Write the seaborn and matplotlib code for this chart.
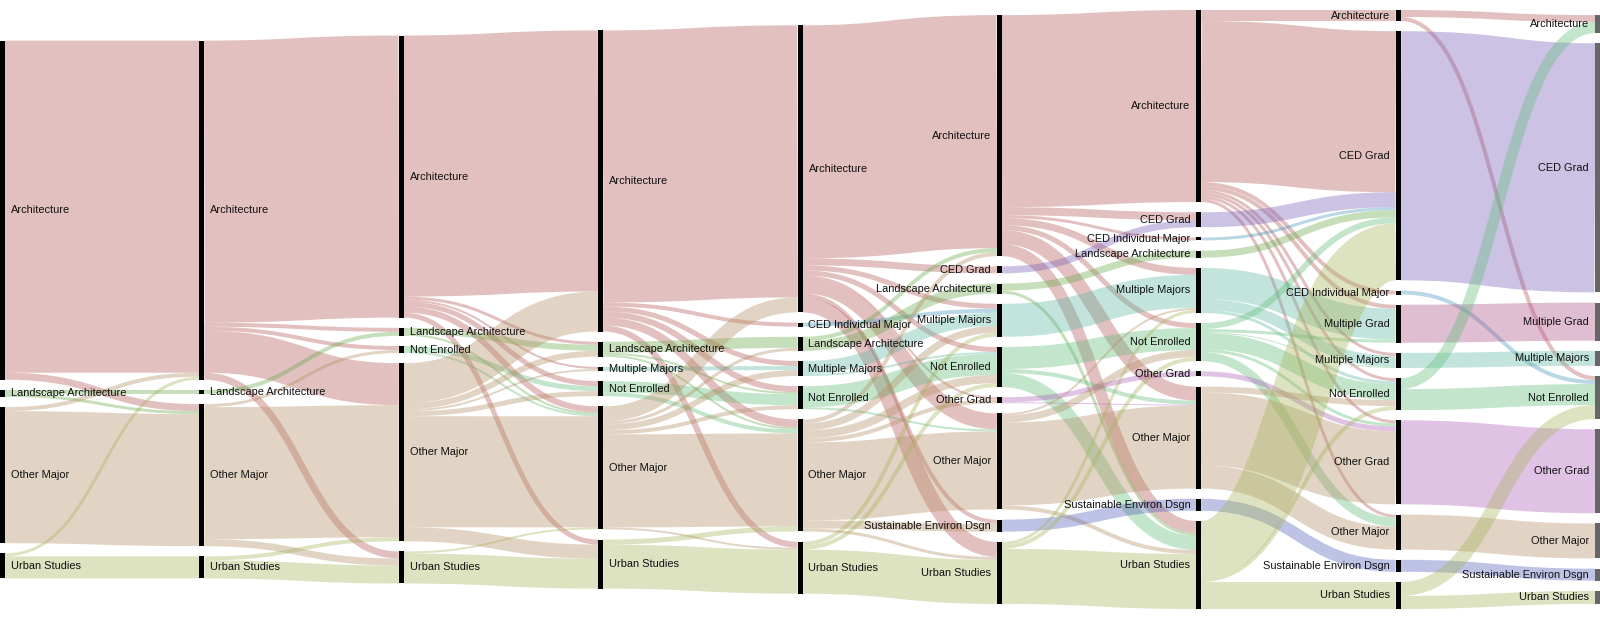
import matplotlib
matplotlib.use("Agg")
import matplotlib.pyplot as plt
from matplotlib.path import Path
from matplotlib.patches import PathPatch
import seaborn as sns

# short names for the categories
A = "Architecture"
CG = "CED Grad"
CI = "CED Individual Major"
L = "Landscape Architecture"
MG = "Multiple Grad"
MM = "Multiple Majors"
NE = "Not Enrolled"
OG = "Other Grad"
OM = "Other Major"
S = "Sustainable Environ Dsgn"
U = "Urban Studies"

# nodes of each stage, top to bottom
stage_0 = [A, L, OM, U]
stage_1 = [A, L, OM, U]
stage_2 = [A, L, NE, OM, U]
stage_3 = [A, L, MM, NE, OM, U]
stage_4 = [A, CI, L, MM, NE, OM, U]
stage_5 = [A, CG, L, MM, NE, OG, OM, S, U]
stage_6 = [A, CG, CI, L, MM, NE, OG, OM, S, U]
stage_7 = [A, CG, CI, MG, MM, NE, OG, OM, S, U]
stage_8 = [A, CG, MG, MM, NE, OG, OM, S, U]
stages = [stage_0, stage_1, stage_2, stage_3, stage_4,
          stage_5, stage_6, stage_7, stage_8]

# flows between consecutive stages: (from, to, students)
flows_0_1 = [(A, A, 332), (A, OM, 7), (L, L, 4), (L, OM, 3),
             (OM, A, 4), (OM, OM, 132), (U, A, 3), (U, U, 22)]
flows_1_2 = [(A, A, 282), (A, L, 4), (A, NE, 4), (A, OM, 42), (A, U, 7),
             (L, L, 4), (OM, NE, 3), (OM, OM, 132), (OM, U, 7),
             (U, OM, 4), (U, U, 18)]
flows_2_3 = [(A, A, 261), (A, L, 3), (A, MM, 2), (A, NE, 5), (A, OM, 6), (A, U, 5),
             (L, L, 6), (L, OM, 2), (NE, NE, 5), (NE, OM, 2),
             (OM, A, 40), (OM, L, 6), (OM, MM, 2), (OM, NE, 5), (OM, OM, 111), (OM, U, 14),
             (U, OM, 2), (U, U, 30)]
flows_3_4 = [(A, A, 272), (A, CI, 4), (A, MM, 5), (A, NE, 6), (A, OM, 8), (A, U, 6),
             (L, L, 11), (L, NE, 2), (L, OM, 2), (MM, MM, 4),
             (NE, NE, 11), (NE, OM, 4),
             (OM, A, 15), (OM, L, 3), (OM, MM, 6), (OM, NE, 4), (OM, OM, 93), (OM, U, 2),
             (U, OM, 5), (U, U, 44)]
flows_4_5 = [(A, A, 233), (A, CG, 7), (A, MM, 5), (A, NE, 5), (A, OG, 2), (A, OM, 16),
             (A, S, 4), (A, U, 15), (CI, MM, 4), (L, A, 4), (L, L, 10),
             (MM, MM, 13), (MM, NE, 2), (NE, NE, 21), (NE, OM, 2),
             (OM, A, 4), (OM, MM, 7), (OM, NE, 8), (OM, OG, 4), (OM, OM, 78), (OM, S, 8),
             (OM, U, 3), (U, MM, 4), (U, NE, 4), (U, U, 44)]
flows_5_6 = [(A, A, 192), (A, CG, 8), (A, CI, 3), (A, MM, 7), (A, NE, 5), (A, OM, 14),
             (A, U, 12), (CG, CG, 7), (L, L, 7), (L, U, 3), (MM, MM, 33),
             (NE, NE, 22), (NE, OM, 4), (NE, U, 14), (OG, OG, 5), (OG, OM, 1),
             (OM, MM, 2), (OM, NE, 7), (OM, OM, 83), (OM, U, 4), (S, S, 12),
             (U, MM, 3), (U, NE, 4), (U, U, 55)]
flows_6_7 = [(A, A, 11), (A, CG, 161), (A, CI, 4), (A, MG, 4), (A, MM, 3), (A, NE, 3),
             (A, OG, 3), (A, OM, 3), (CG, CG, 15), (CI, CG, 3), (L, CG, 7),
             (MM, MG, 31), (MM, MM, 11), (MM, NE, 3),
             (NE, CG, 6), (NE, MG, 3), (NE, MM, 1), (NE, NE, 16), (NE, OG, 3), (NE, OM, 9),
             (OG, OG, 5), (OM, NE, 6), (OM, OG, 73), (OM, OM, 23), (S, S, 12),
             (U, CG, 57), (U, NE, 4), (U, U, 27)]
flows_7_8 = [(A, A, 7), (A, NE, 4), (CG, CG, 249), (CI, NE, 4), (MG, MG, 38),
             (MM, MM, 15), (NE, A, 11), (NE, NE, 21), (OG, OG, 84), (OM, OM, 35),
             (S, S, 12), (U, NE, 14), (U, U, 13)]
flows = [flows_0_1, flows_1_2, flows_2_3, flows_3_4,
         flows_4_5, flows_5_6, flows_6_7, flows_7_8]

# flow colour follows the source category
colors = {A: "#b55a5a", CG: "#7b61b8", CI: "#4796bd", L: "#6aaa4a",
          MG: "#b05489", MM: "#61b8a3", NE: "#61bd7b", OG: "#b061bd",
          OM: "#b59064", S: "#5461b8", U: "#a8b35c"}

sns.set_theme(style="white")
plt.rcParams['font.family'] = ['Liberation Sans', 'DejaVu Sans']

W, H = 1600, 620
node_w = 5
pad = 10.2
top, bottom = 10, 609
kx = (W - node_w) / (len(stages) - 1)

# node sizes
values = []
for i, names in enumerate(stages):
    vals = {}
    for n in names:
        vin = sum(v for s, t, v in flows[i - 1] if t == n) if i > 0 else 0
        vout = sum(v for s, t, v in flows[i] if s == n) if i < len(flows) else 0
        vals[n] = max(vin, vout)
    values.append(vals)

ky = min((bottom - top - (len(names) - 1) * pad) / sum(values[i].values())
         for i, names in enumerate(stages))

# stack nodes, each column centred
ypos = []
for i, names in enumerate(stages):
    span = sum(values[i].values()) * ky + (len(names) - 1) * pad
    y = (top + bottom) / 2 - span / 2
    pos = {}
    for n in names:
        h = values[i][n] * ky
        pos[n] = (y, y + h)
        y += h + pad
    ypos.append(pos)

fig = plt.figure(figsize=(16, 6.2), dpi=100)
ax = fig.add_axes([0, 0, 1, 1])
ax.set_xlim(0, W)
ax.set_ylim(H, 0)
ax.axis('off')

# links
for i, fl in enumerate(flows):
    src_pos, tgt_pos = ypos[i], ypos[i + 1]
    out_off = {n: src_pos[n][0] for n in src_pos}
    in_off = {n: tgt_pos[n][0] for n in tgt_pos}
    ys, yt = {}, {}
    for k in sorted(range(len(fl)), key=lambda k: (stages[i].index(fl[k][0]), tgt_pos[fl[k][1]][0])):
        s, t, v = fl[k]
        w = v * ky
        ys[k] = out_off[s] + w / 2
        out_off[s] += w
    for k in sorted(range(len(fl)), key=lambda k: (stages[i + 1].index(fl[k][1]), src_pos[fl[k][0]][0])):
        s, t, v = fl[k]
        w = v * ky
        yt[k] = in_off[t] + w / 2
        in_off[t] += w
    x0 = i * kx + node_w
    x1 = (i + 1) * kx
    xm = (x0 + x1) / 2
    for k, (s, t, v) in enumerate(fl):
        path = Path([(x0, ys[k]), (xm, ys[k]), (xm, yt[k]), (x1, yt[k])],
                    [Path.MOVETO, Path.CURVE4, Path.CURVE4, Path.CURVE4])
        ax.add_patch(PathPatch(path, fill=False, edgecolor=colors[s], alpha=0.38,
                               lw=v * ky * 72 / 100, capstyle='butt'))

# nodes and labels
last = len(stages) - 1
for i, names in enumerate(stages):
    x = i * kx
    bar_color = "#666666" if i == last else "black"
    for n in names:
        y0, y1 = ypos[i][n]
        ax.bar(x, y1 - y0, bottom=y0, width=node_w, align='edge', color=bar_color,
               linewidth=0, zorder=3)
        if x < W / 2:
            ax.text(x + node_w + 6, (y0 + y1) / 2, n, ha='left', va='center',
                    fontsize=7.9, color='#111111', zorder=4)
        else:
            ax.text(x - 6, (y0 + y1) / 2, n, ha='right', va='center',
                    fontsize=7.9, color='#111111', zorder=4)

fig.savefig("out.png", dpi=100)
